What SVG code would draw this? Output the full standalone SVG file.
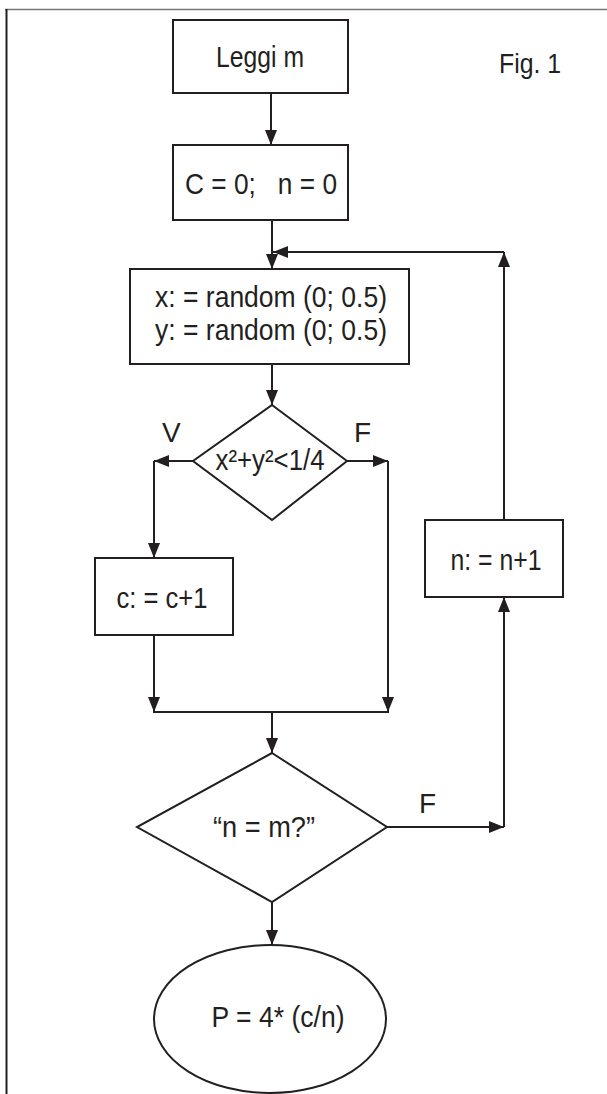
<svg xmlns="http://www.w3.org/2000/svg" width="607" height="1094" viewBox="0 0 607 1094">
<style>
.box{fill:#fff;stroke:#231f20;stroke-width:2}
.ln{fill:none;stroke:#231f20;stroke-width:2}
.t{font-family:"Liberation Sans",Arial,sans-serif;font-size:29px;fill:#231f20;text-anchor:middle}
.lbl{font-family:"Liberation Sans",Arial,sans-serif;font-size:28px;fill:#231f20}
</style>
<defs>
<marker id="ah" markerUnits="userSpaceOnUse" markerWidth="16" markerHeight="12" refX="15" refY="6" orient="auto">
<path d="M0,0 L15,6 L0,12 Z" fill="#231f20"/>
</marker>
</defs>
<g id="frame">
<line x1="5" y1="9.5" x2="607" y2="9.5" stroke="#777" stroke-width="1.5"/>
<line x1="6.5" y1="9" x2="6.5" y2="1094" stroke="#231f20" stroke-width="2"/>
</g>
<g id="fig-label"><text class="lbl" x="499" y="73" textLength="62" lengthAdjust="spacingAndGlyphs">Fig. 1</text></g>
<g id="connectors">
<line class="ln" x1="271" y1="93" x2="271" y2="145" marker-end="url(#ah)"/>
<line class="ln" x1="272" y1="220" x2="272" y2="269" marker-end="url(#ah)"/>
<line class="ln" x1="504" y1="520" x2="504" y2="252" marker-end="url(#ah)"/>
<line class="ln" x1="504" y1="252" x2="273" y2="252" marker-end="url(#ah)"/>
<line class="ln" x1="272" y1="364" x2="272" y2="405" marker-end="url(#ah)"/>
<line class="ln" x1="193" y1="461" x2="154" y2="461" marker-end="url(#ah)"/>
<line class="ln" x1="154" y1="461" x2="154" y2="558" marker-end="url(#ah)"/>
<line class="ln" x1="347" y1="461" x2="388" y2="461" marker-end="url(#ah)"/>
<line class="ln" x1="388" y1="461" x2="388" y2="712" marker-end="url(#ah)"/>
<line class="ln" x1="154" y1="635" x2="154" y2="712" marker-end="url(#ah)"/>
<line class="ln" x1="153" y1="712" x2="389" y2="712"/>
<line class="ln" x1="272" y1="712" x2="272" y2="753" marker-end="url(#ah)"/>
<line class="ln" x1="387" y1="827" x2="504" y2="827" marker-end="url(#ah)"/>
<line class="ln" x1="504" y1="827" x2="504" y2="597" marker-end="url(#ah)"/>
<line class="ln" x1="272" y1="902" x2="272" y2="945" marker-end="url(#ah)"/>
<text class="lbl" x="162" y="442">V</text>
<text class="lbl" x="354" y="442">F</text>
<text class="lbl" x="419" y="813">F</text>
</g>
<g id="leggi">
<rect class="box" x="173" y="20" width="175" height="73"/>
<text class="t" x="260" y="67" textLength="88" lengthAdjust="spacingAndGlyphs">Leggi m</text>
</g>
<g id="init">
<rect class="box" x="173" y="145" width="175" height="75"/>
<text class="t" x="261" y="194" xml:space="preserve" textLength="152" lengthAdjust="spacingAndGlyphs">C = 0;   n = 0</text>
</g>
<g id="random">
<rect class="box" x="130" y="269" width="279" height="95"/>
<text class="t" x="271" y="307" textLength="232" lengthAdjust="spacingAndGlyphs">x: = random (0; 0.5)</text>
<text class="t" x="271" y="340" textLength="232" lengthAdjust="spacingAndGlyphs">y: = random (0; 0.5)</text>
</g>
<g id="test1">
<polygon class="box" points="272,405 347,461 272,520 193,461"/>
<text class="t" x="270" y="470" textLength="109" lengthAdjust="spacingAndGlyphs">x²+y²&lt;1/4</text>
</g>
<g id="inc-c">
<rect class="box" x="95" y="558" width="138" height="77"/>
<text class="t" x="162" y="608" textLength="91" lengthAdjust="spacingAndGlyphs">c: = c+1</text>
</g>
<g id="inc-n">
<rect class="box" x="425" y="520" width="138" height="77"/>
<text class="t" x="496" y="570" textLength="91" lengthAdjust="spacingAndGlyphs">n: = n+1</text>
</g>
<g id="test2">
<polygon class="box" points="272,753 387,827 272,902 137,827"/>
<text class="t" x="264" y="837" textLength="102" lengthAdjust="spacingAndGlyphs">“n = m?”</text>
</g>
<g id="result">
<ellipse class="box" cx="270" cy="1019" rx="116" ry="74"/>
<text class="t" x="278" y="1027" textLength="133" lengthAdjust="spacingAndGlyphs">P = 4* (c/n)</text>
</g>
</svg>
